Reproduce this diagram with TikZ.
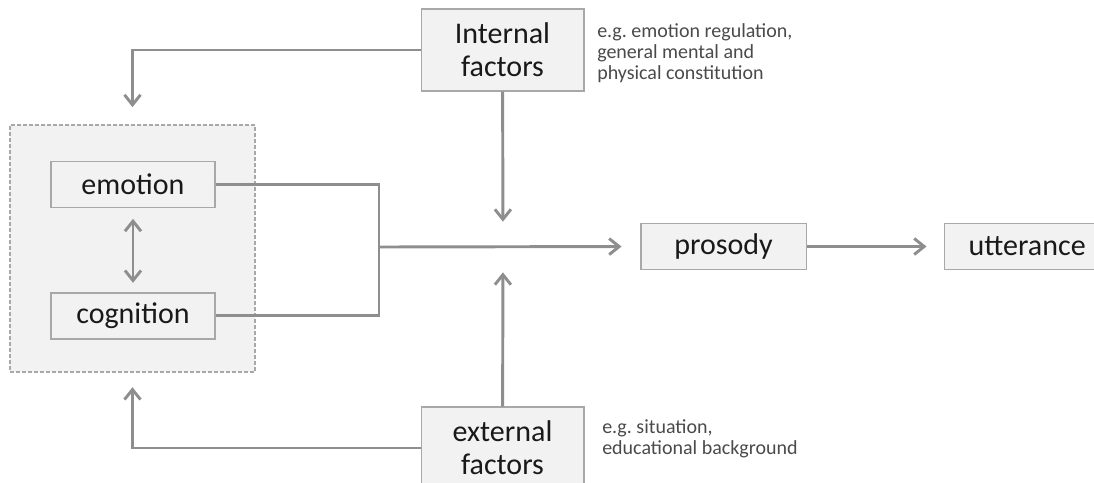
\documentclass[tikz,border=0pt]{standalone}
\usepackage{xcolor}
\usepackage{fontspec}
\setmainfont{Carlito}
\usepackage{tikz}
\usetikzlibrary{positioning}
\usetikzlibrary{arrows.meta}

\definecolor{linegray}{HTML}{8E8E8E}
\definecolor{boxfill}{HTML}{F2F2F2}
\definecolor{boxline}{HTML}{A8A8A8}
\definecolor{notegray}{HTML}{4A4A4A}

\begin{document}
\begin{tikzpicture}[x=0.75pt,y=-0.75pt,
	>={Straight Barb[length=7.5pt,width=12pt]},
	conn/.style={draw=linegray,line width=2.2pt},
	box/.style={draw=boxline,fill=boxfill,line width=1pt,text=black!90,
		font=\fontsize{22.5}{24.75}\selectfont,minimum width=123pt,minimum height=34.5pt},
	factorbox/.style={box,align=center,minimum width=122pt,minimum height=61.5pt},
	groupbox/.style={draw=boxline,fill=boxfill,line width=0.8pt,dash pattern=on 3pt off 1.5pt,
		minimum width=183.75pt,minimum height=185.25pt},
	note/.style={align=left,inner sep=0pt,text=notegray,font=\fontsize{15}{15.75}\selectfont}]
	\useasboundingbox (0,0) rectangle (1094,482);
	\clip (0,0) rectangle (1094,482);
	
	\node[groupbox] (inner) at (132.5,248.5) {};
	\node[box] (emotion) at (133,184.5) {emotion};
	\node[box] (cognition) [below = 63pt of emotion] {cognition};
	
	\node[factorbox] (internal) at (502.5,50) {Internal\\factors};
	\node[factorbox] (external) at (502.5,448) {external\\factors};
	
	\node[box,minimum width=124pt] (prosody) at (723.5,246.5) {prosody};
	\node[box,minimum width=124pt] (utterance) [right = 102.75pt of prosody] {utterance};
	
	\node[note,anchor=north west] (internalnote) at (597,23) {e.g.\ emotion regulation,\\general mental and\\physical constitution};
	\node[note,anchor=north west] (externalnote) at (602,419) {e.g.\ situation,\\educational background};
	
	\coordinate (join) at (379,247);
	\coordinate (mid) at (503,247);
	
	\draw[conn,<->,shorten <=8pt,shorten >=7pt] (emotion) -- (cognition);
	\draw[conn] (emotion.east) -| (join) |- (cognition.east);
	\draw[conn,->,shorten >=14pt] (join) -- (prosody.west);
	\draw[conn,->,shorten >=13pt] (prosody) -- (utterance);
	
	\draw[conn,->,shorten >=19pt] (internal) -- (mid);
	\draw[conn,->,shorten >=19pt] (external) -- (mid);
	\draw[conn,->,shorten >=13pt] (internal.west) -| (inner.north);
	\draw[conn,->,shorten >=11pt] (external.west) -| (inner.south);
\end{tikzpicture}
\end{document}
